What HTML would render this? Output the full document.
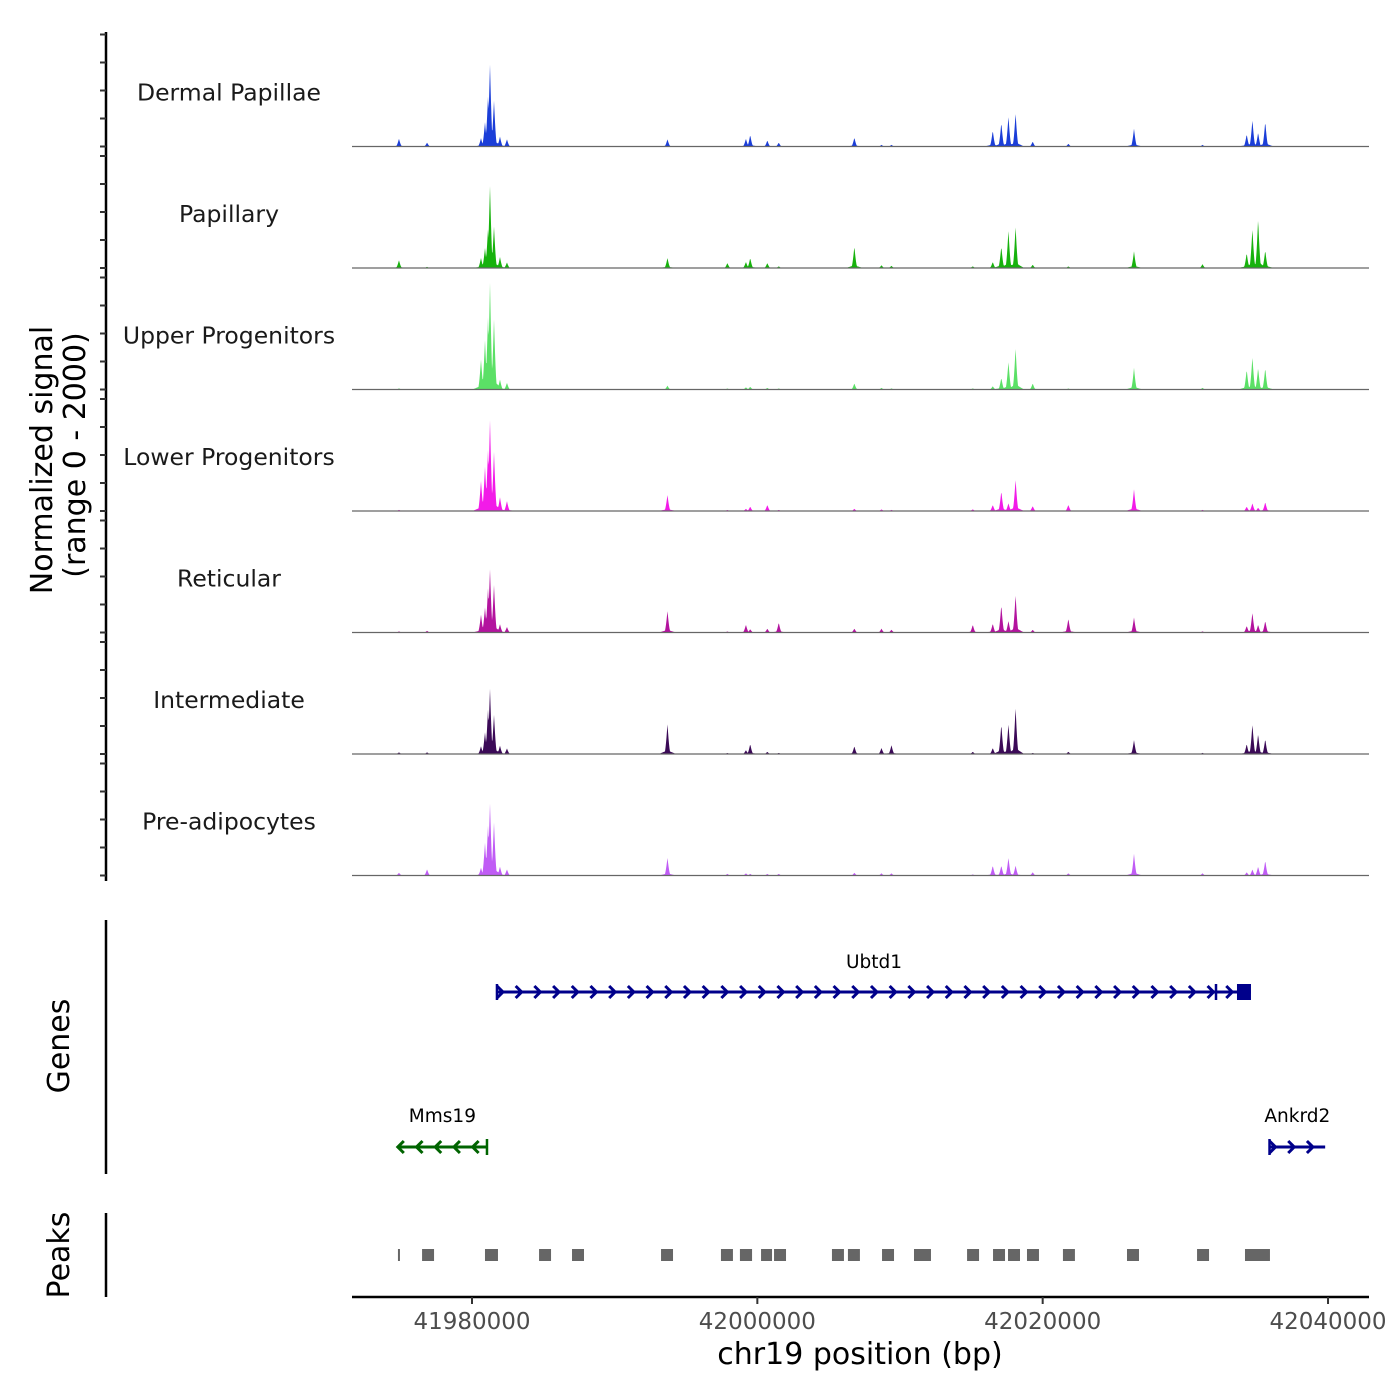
<!DOCTYPE html>
<html><head><meta charset="utf-8"><style>
body{margin:0;background:#fff}svg{display:block}
text{font-family:"DejaVu Sans","Liberation Sans",sans-serif}
</style></head><body>
<svg id="chart" width="1400" height="1400" viewBox="0 0 1400 1400" xmlns="http://www.w3.org/2000/svg">
<g id="tracks"></g>
<g id="axes">
<line x1="106" y1="32" x2="106" y2="881" stroke="#000" stroke-width="2.5"/>
<text transform="translate(52,460) rotate(-90)" text-anchor="middle" font-size="30">Normalized signal</text>
<text transform="translate(85,455) rotate(-90)" text-anchor="middle" font-size="30">(range 0 - 2000)</text>
<line x1="106" y1="920" x2="106" y2="1174" stroke="#000" stroke-width="2.5"/>
<text transform="translate(69,1046) rotate(-90)" text-anchor="middle" font-size="30">Genes</text>
<line x1="106" y1="1213" x2="106" y2="1297" stroke="#000" stroke-width="2.5"/>
<text transform="translate(69,1255) rotate(-90)" text-anchor="middle" font-size="30">Peaks</text>
<line x1="352" y1="1297" x2="1369" y2="1297" stroke="#000" stroke-width="2.5"/>
<text x="860" y="1364" text-anchor="middle" font-size="30">chr19 position (bp)</text>
</g>
<g id="genes"></g>
<g id="peaks"></g>
</svg>
<script>
const trackNames = ["Dermal Papillae","Papillary","Upper Progenitors","Lower Progenitors","Reticular","Intermediate","Pre-adipocytes"];
const trackColors = ["#1b3ed8","#17b20d","#5be066","#f21be8","#b3139e","#3b0a57","#c05cf5"];
const peakPositions = [41974.88,41976.85,41980.63,41980.91,41981.12,41981.26,41981.54,41981.96,41982.45,41993.7,41997.9,41999.2,41999.5,42000.7,42001.5,42006.8,42008.7,42009.4,42015.1,42016.5,42017.1,42017.6,42018.1,42019.3,42021.8,42026.4,42031.2,42034.3,42034.7,42035.1,42035.6];
const heightsDermal = [140,70,150,440,900,1480,830,180,130,130,0,140,210,110,70,160,30,30,0,290,430,540,600,90,50,320,30,220,480,250,450];
const heightsPapillary = [140,20,180,360,700,1480,750,200,100,180,90,110,180,90,30,390,50,40,30,110,390,680,750,60,30,300,70,270,710,890,320];
const heightsUpper = [20,10,540,890,1300,1930,1270,180,120,70,20,40,50,30,20,110,30,20,20,60,210,500,750,110,20,390,30,360,590,390,390];
const heightsLower = [20,10,540,800,1100,1640,1070,250,180,290,20,40,80,110,20,40,30,20,30,110,360,140,570,90,110,390,20,80,140,60,160];
const heightsReticular = [20,30,320,450,800,1140,860,150,100,390,20,140,60,70,180,70,70,50,140,160,500,210,680,50,250,270,20,120,360,140,210];
const heightsIntermediate = [30,30,140,390,800,1180,710,150,100,540,20,70,180,40,20,140,110,160,40,110,540,540,840,20,40,250,20,180,540,360,270];
const heightsPreadipo = [50,110,140,590,900,1300,960,160,110,320,30,40,30,30,30,50,40,40,20,180,180,320,180,60,40,390,40,60,110,160,270];
const trackHeights = [heightsDermal,heightsPapillary,heightsUpper,heightsLower,heightsReticular,heightsIntermediate,heightsPreadipo];
const xTickValues = [41980000,42000000,42020000,42040000];
const peakStarts = [41974.81,41976.50,41980.91,41984.70,41987.01,41993.25,41997.45,41998.78,42000.26,42001.17,42005.23,42006.35,42008.74,42010.98,42014.70,42016.52,42017.57,42018.90,42021.42,42025.91,42030.82,42034.18];
const peakEnds = [41974.95,41977.34,41981.82,41985.54,41987.85,41994.09,41998.29,41999.63,42001.03,42002.01,42006.07,42007.19,42009.58,42012.17,42015.54,42017.36,42018.41,42019.74,42022.26,42026.75,42031.66,42035.93];
const geneNames = ["Ubtd1","Mms19","Ankrd2"];
const geneStarts = [41981.75,41974.8,42035.9];
const geneEnds = [42034.6,41981.05,42039.8];
const geneStrands = [1,-1,1];

const NS="http://www.w3.org/2000/svg";
const X0=352,X1=1369;
function xs(kb){return 472+(kb-41980)*14.267;}
function ys(v,base){return base-v*112/2000;}
function mk(tag,attrs,parent){const e=document.createElementNS(NS,tag);for(const k in attrs)e.setAttribute(k,attrs[k]);parent.appendChild(e);return e;}
const tracks=document.getElementById('tracks');
const axes=document.getElementById('axes');
const HW=0.22, BW=0.6;
trackNames.forEach((name,t)=>{
  const base=146.5+121.5*t;
  const hs=trackHeights[t];
  const g=mk('g',{},tracks);
  
  
  let d='M'+X0+','+base;
  for(let px=X0;px<=X1;px+=0.5){
    const kb=41980+(px-472)/14.267;
    let v=0, skirt=0;
    peakPositions.forEach((p,i)=>{
      const dd=Math.abs(kb-p);
      if(dd<HW){v=Math.max(v,hs[i]*Math.pow(1-dd/HW,1.6));}
      if(dd<BW){skirt=Math.max(skirt,hs[i]*0.12*(1-dd/BW));}
    });
    v=Math.max(v,skirt);
    d+=' L'+px+','+ys(v,base).toFixed(2);
  }
  d+=' L'+X1+','+base+' Z';
  const path=mk('path',{d:d,fill:trackColors[t],stroke:'none'},g);
  
  
  const bl=mk('line',{x1:X0,x2:X1,y1:base,y2:base,stroke:'#666',"stroke-width":1.2},g);
  
  
  const lab=mk('text',{x:229,y:base-46,"text-anchor":"middle","font-size":23.5,fill:"#1a1a1a"},g);
  lab.textContent=name;
  
  
  [0,500,1000,1500,2000].forEach(v=>{
    const tk=mk('line',{x1:100,x2:106,y1:ys(v,base),y2:ys(v,base),stroke:'#333',"stroke-width":2},axes);
    
    
  });
});
xTickValues.forEach(v=>{
  const x=xs(v/1000);
  const tk=mk('line',{x1:x,x2:x,y1:1297,y2:1304,stroke:'#333',"stroke-width":2},axes);
  
  
  const tl=mk('text',{x:x,y:1329,"text-anchor":"middle","font-size":23,fill:"#4d4d4d"},axes);
  tl.textContent=v;
  
  
});
const genes=document.getElementById('genes');
const geneRows=[992,1147,1147];
const geneColors=["#00008b","#006400","#00008b"];
geneNames.forEach((n,i)=>{
  const y=geneRows[i],c=geneColors[i];
  const a=xs(geneStarts[i]),b=xs(geneEnds[i]);
  const g=mk('g',{},genes);
  
  
  mk('line',{x1:a,x2:b,y1:y,y2:y,stroke:c,"stroke-width":3},g);
  const s=geneStrands[i];
  for(let x=a+3;x<b-4;x+=18.7){
    mk('path',{d:`M${x-3*s},${y-6} L${x+3*s},${y} L${x-3*s},${y+6}`,fill:'none',stroke:c,"stroke-width":3},g);
  }
  const tx=s>0?a:b;
  mk('line',{x1:tx,x2:tx,y1:y-8,y2:y+8,stroke:c,"stroke-width":2.5},g);
  if(i===0){
    mk('line',{x1:1216,x2:1216,y1:y-8,y2:y+8,stroke:c,"stroke-width":2.5},g);
    mk('rect',{x:b-14,y:y-8,width:14,height:16,fill:c},g);
  }
  const lab=mk('text',{x:(a+b)/2,y:i===0?968:1122,"text-anchor":"middle","font-size":18.5,fill:"#000"},g);
  lab.textContent=n;
  
  
});
const peaks=document.getElementById('peaks');
peakStarts.forEach((s,i)=>{
  const a=xs(s),b=xs(peakEnds[i]);
  const r=mk('rect',{x:a,y:1249,width:Math.max(1,b-a),height:12,fill:'#666'},peaks);
  
  
});
</script>
</body></html>
